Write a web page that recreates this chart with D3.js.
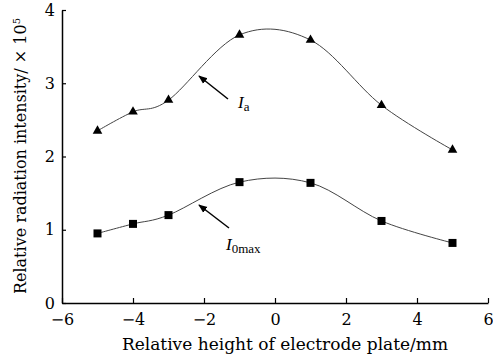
<!DOCTYPE html>
<html>
<head>
<meta charset="utf-8">
<script src="https://cdn.jsdelivr.net/npm/d3@7"></script>
<style>
  body { margin: 0; background: #fff; }
  text { font-family: "DejaVu Serif", "Liberation Serif", serif; fill: #000; }
</style>
</head>
<body>
<svg></svg>
<script>
// heights (mm) and intensities (x 10^5)
const heights = [-5, -4, -3, -1, 1, 3, 5];
const intensityA = [2.35, 2.61, 2.77, 3.66, 3.59, 2.70, 2.09];
const intensity0max = [0.95, 1.08, 1.20, 1.65, 1.64, 1.12, 0.82];
const xTicks = [-6, -4, -2, 0, 2, 4, 6];
const yTicks = [0, 1, 2, 3, 4];

const size = {w: 493, h: 356};
const svg = d3.select('svg')
    .attr('width', size.w)
    .attr('height', size.h);

const x = d3.scaleLinear().domain([-6, 6]).range([62, 488]);
const y = d3.scaleLinear().domain([0, 4]).range([303, 10]);

// axes, ticks inward
const xAxis = svg.append('g')
    .attr('transform', `translate(0,${y(0)})`)
    .call(d3.axisBottom(x).tickValues(xTicks).tickFormat(d3.format('d'))
        .tickSizeInner(-5).tickSizeOuter(0).tickPadding(11));
const yAxis = svg.append('g')
    .attr('transform', `translate(${x(-6)},0)`)
    .call(d3.axisLeft(y).tickValues(yTicks).tickFormat(d3.format('d'))
        .tickSizeInner(-4).tickSizeOuter(0).tickPadding(7));

[xAxis, yAxis].forEach(g => {
    g.select('.domain').attr('stroke', '#000').attr('stroke-width', 1.5);
    g.selectAll('.tick line').attr('stroke', '#000').attr('stroke-width', 1.2);
    g.selectAll('.tick text')
        .style('font-family', '"DejaVu Serif", serif')
        .style('font-size', '16px');
});

// axis titles
svg.append('text')
    .attr('x', 285)
    .attr('y', 350)
    .attr('text-anchor', 'middle')
    .style('font-size', '17px')
    .text('Relative height of electrode plate/mm');

const yTitle = svg.append('text')
    .attr('transform', `translate(26,156) rotate(-90)`)
    .attr('text-anchor', 'middle')
    .style('font-size', '16px');
yTitle.append('tspan').text('Relative radiation intensity/ × 10');
yTitle.append('tspan').attr('dy', -6).style('font-size', '10px').text('5');

// smooth lines
const line = d3.line()
    .x(d => x(d[0]))
    .y(d => y(d[1]))
    .curve(d3.curveCardinal.tension(0));

const seriesA = heights.map((h, i) => [h, intensityA[i]]);
const series0 = heights.map((h, i) => [h, intensity0max[i]]);

[seriesA, series0].forEach(s => {
    svg.append('path')
        .datum(s)
        .attr('fill', 'none')
        .attr('stroke', '#444')
        .attr('stroke-width', 1)
        .attr('d', line);
});

// markers
svg.append('g')
    .selectAll('path')
    .data(seriesA)
    .join('path')
    .attr('transform', d => `translate(${x(d[0])},${y(d[1])})`)
    .attr('d', d3.symbol(d3.symbolTriangle, 40))
    .attr('fill', '#000');

svg.append('g')
    .selectAll('rect')
    .data(series0)
    .join('rect')
    .attr('x', d => x(d[0]) - 4)
    .attr('y', d => y(d[1]) - 4)
    .attr('width', 8)
    .attr('height', 8)
    .attr('fill', '#000');

// annotation arrows
svg.append('defs').append('marker')
    .attr('id', 'arrow')
    .attr('viewBox', '0 0 10 10')
    .attr('refX', 9)
    .attr('refY', 5)
    .attr('markerWidth', 6)
    .attr('markerHeight', 6)
    .attr('orient', 'auto')
    .append('path')
    .attr('d', 'M0,1L10,5L0,9z')
    .attr('fill', '#000');

const labels = [
    {from: [228, 99], to: [199, 76], tx: 238, ty: 108, sub: 'a'},
    {from: [229, 228], to: [199, 205], tx: 226, ty: 250, sub: '0max'}
];

labels.forEach(l => {
    svg.append('line')
        .attr('x1', l.from[0]).attr('y1', l.from[1])
        .attr('x2', l.to[0]).attr('y2', l.to[1])
        .attr('stroke', '#000')
        .attr('stroke-width', 1.5)
        .attr('marker-end', 'url(#arrow)');
    const t = svg.append('text')
        .attr('x', l.tx)
        .attr('y', l.ty)
        .style('font-family', '"Liberation Serif", serif')
        .style('font-size', '17px');
    t.append('tspan').style('font-style', 'italic').text('I');
    t.append('tspan').attr('dy', 3).style('font-size', '13px').text(l.sub);
});
</script>
</body>
</html>
